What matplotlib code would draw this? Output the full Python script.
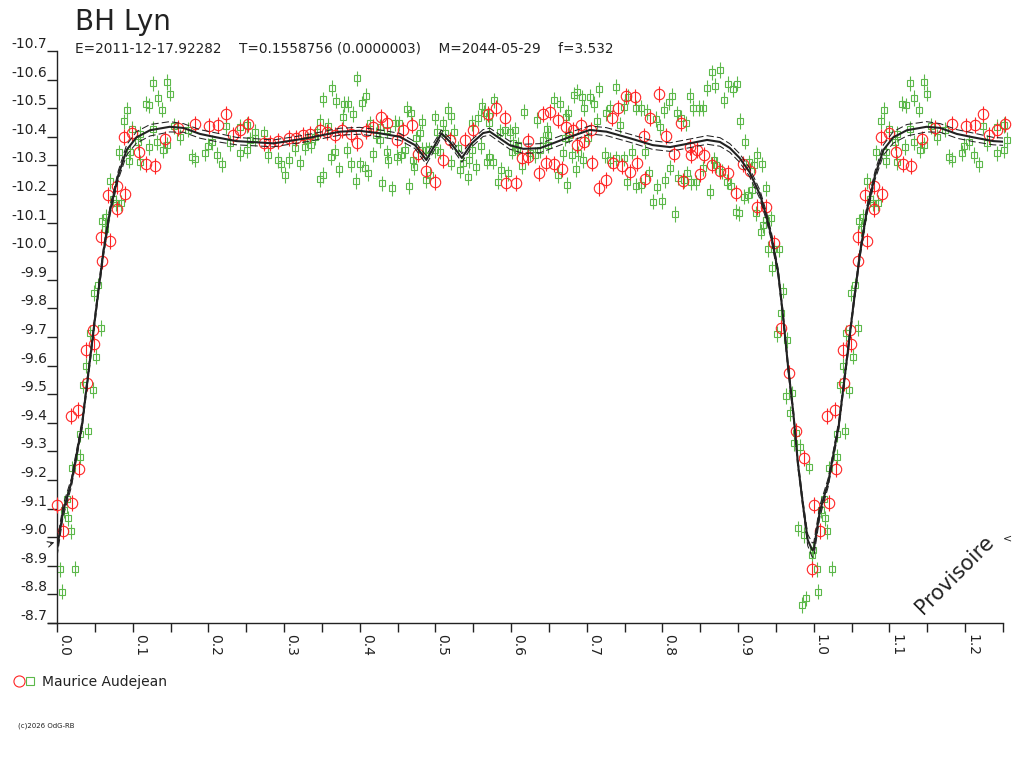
import numpy as np
import matplotlib
matplotlib.use("Agg")
import matplotlib.pyplot as plt
from matplotlib.lines import Line2D
from matplotlib.legend_handler import HandlerTuple
from matplotlib.ticker import MultipleLocator

# observations, phase 0..1 (repeated past 1.0 up to 1.25)
red_phase = [0.000, 0.008, 0.020, 0.029, 0.018, 0.028, 0.040, 0.038, 0.049, 0.048,
             0.059, 0.058, 0.070, 0.079, 0.090, 0.068, 0.079, 0.089, 0.109, 0.118,
             0.129, 0.099, 0.143, 0.160, 0.182, 0.201, 0.213, 0.223, 0.232,
             0.253, 0.242, 0.273, 0.281, 0.292, 0.306, 0.316, 0.325, 0.334, 0.347,
             0.357, 0.367, 0.377, 0.388, 0.397, 0.408, 0.417, 0.428, 0.436, 0.449,
             0.457, 0.469, 0.477, 0.487, 0.499,
             0.580, 0.752, 0.741, 0.733, 0.652, 0.642, 0.662, 0.592, 0.570, 0.550,
             0.539, 0.519, 0.692, 0.705, 0.682, 0.672, 0.622, 0.687, 0.696, 0.614,
             0.623, 0.510, 0.646, 0.657, 0.667, 0.637, 0.707, 0.735, 0.746, 0.593,
             0.606, 0.726, 0.716,
             0.764, 0.795, 0.783, 0.824, 0.775, 0.805, 0.815, 0.836, 0.846, 0.855,
             0.838, 0.767, 0.757, 0.777, 0.827, 0.849, 0.866, 0.876, 0.886, 0.897,
             0.907, 0.916, 0.925, 0.937,
             0.948, 0.956, 0.967, 0.977, 0.987, 0.997]
red_mag = [-9.113, -9.021, -9.119, -9.238, -9.423, -9.444, -9.538, -9.654, -9.675, -9.723,
           -9.966, -10.048, -10.034, -10.146, -10.200, -10.196, -10.229, -10.400, -10.346, -10.306,
           -10.298, -10.413, -10.394, -10.431, -10.444, -10.438, -10.440, -10.481, -10.406,
           -10.444, -10.424, -10.377, -10.377, -10.386, -10.395, -10.397, -10.406, -10.410, -10.424,
           -10.418, -10.406, -10.424, -10.410, -10.377, -10.420, -10.435, -10.470, -10.447, -10.389,
           -10.424, -10.441, -10.339, -10.280, -10.243,
           -10.500, -10.543, -10.500, -10.465, -10.488, -10.479, -10.459, -10.465, -10.481, -10.424,
           -10.389, -10.389, -10.441, -10.424, -10.424, -10.435, -10.386, -10.371, -10.383, -10.325,
           -10.330, -10.319, -10.307, -10.304, -10.287, -10.272, -10.310, -10.307, -10.297, -10.240,
           -10.237, -10.250, -10.220,
           -10.540, -10.549, -10.465, -10.449, -10.404, -10.404, -10.340, -10.365, -10.353, -10.336,
           -10.336, -10.307, -10.278, -10.252, -10.245, -10.269, -10.301, -10.281, -10.273, -10.202,
           -10.304, -10.281, -10.156, -10.156,
           -10.028, -9.733, -9.573, -9.371, -9.278, -8.888]

green_phase = [0.006, 0.004, 0.024, 0.018, 0.015, 0.009, 0.013, 0.020, 0.030, 0.031,
               0.041, 0.047, 0.035, 0.038, 0.052, 0.043, 0.058, 0.049, 0.054, 0.063,
               0.060, 0.065, 0.078, 0.085, 0.074, 0.070, 0.082, 0.095, 0.110, 0.096,
               0.121, 0.140, 0.145, 0.107, 0.110, 0.099, 0.089, 0.093, 0.117, 0.122,
               0.133, 0.139, 0.127, 0.145, 0.149, 0.127, 0.132, 0.155, 0.163, 0.173,
               0.179, 0.183, 0.196, 0.199, 0.205, 0.212, 0.218, 0.223, 0.229,
               0.397, 0.363, 0.408, 0.352, 0.369, 0.403, 0.379, 0.385, 0.391, 0.378,
               0.462, 0.468, 0.482, 0.499, 0.347, 0.358, 0.251, 0.262, 0.273, 0.262,
               0.255, 0.242, 0.413, 0.427, 0.447, 0.452, 0.436, 0.422, 0.427, 0.480,
               0.475, 0.502, 0.343, 0.341, 0.330, 0.336, 0.328, 0.314, 0.279, 0.292,
               0.296, 0.307, 0.321, 0.301, 0.251, 0.242, 0.367, 0.362, 0.383, 0.373,
               0.389, 0.401, 0.407, 0.411, 0.352, 0.347, 0.395, 0.417, 0.436, 0.438,
               0.449, 0.455, 0.460, 0.471, 0.472, 0.482, 0.488, 0.492, 0.499, 0.488,
               0.493, 0.429, 0.443, 0.465,
               0.738, 0.716, 0.687, 0.683, 0.694, 0.704, 0.657, 0.664, 0.709, 0.697,
               0.731, 0.725, 0.749, 0.755, 0.561, 0.578, 0.516, 0.521, 0.617, 0.564,
               0.571, 0.556, 0.549, 0.571, 0.634, 0.672, 0.675, 0.713, 0.744, 0.510,
               0.513, 0.524, 0.585, 0.592, 0.598, 0.605, 0.647, 0.649, 0.642, 0.671,
               0.677, 0.702, 0.506, 0.530, 0.549, 0.560, 0.603, 0.609, 0.608, 0.601,
               0.625, 0.631, 0.638, 0.649, 0.668, 0.680, 0.689, 0.695, 0.724, 0.731,
               0.739, 0.749, 0.521, 0.537, 0.545, 0.554, 0.568, 0.576, 0.571, 0.614,
               0.532, 0.543, 0.587, 0.596, 0.662, 0.686, 0.583, 0.674, 0.753,
               0.865, 0.876, 0.859, 0.870, 0.887, 0.898, 0.893, 0.881, 0.836, 0.813,
               0.809, 0.802, 0.841, 0.848, 0.854, 0.765, 0.772, 0.779, 0.791, 0.797,
               0.819, 0.825, 0.831, 0.903, 0.909, 0.760, 0.777, 0.782, 0.765, 0.772,
               0.793, 0.804, 0.810, 0.821, 0.832, 0.829, 0.838, 0.845, 0.854, 0.868,
               0.871, 0.879, 0.885, 0.890, 0.863, 0.788, 0.799, 0.816, 0.897, 0.901,
               0.908, 0.913, 0.919, 0.937, 0.915, 0.925, 0.932, 0.921, 0.924, 0.937,
               0.944,
               0.933, 0.930, 0.940, 0.948, 0.954, 0.945, 0.959, 0.957, 0.952, 0.965,
               0.963, 0.971, 0.968, 0.976, 0.982, 0.974, 0.994, 0.979, 0.987, 0.999,
               0.997, 0.990, 0.985]
green_mag = [-8.810, -8.888, -8.890, -9.020, -9.066, -9.094, -9.135, -9.241, -9.282, -9.360,
             -9.372, -9.514, -9.531, -9.600, -9.631, -9.714, -9.731, -9.854, -9.881, -10.079,
             -10.104, -10.120, -10.169, -10.169, -10.181, -10.245, -10.346, -10.317, -10.311, -10.346,
             -10.364, -10.354, -10.372, -10.381, -10.410, -10.429, -10.454, -10.494, -10.516, -10.510,
             -10.535, -10.495, -10.587, -10.591, -10.551, -10.429, -10.381, -10.437, -10.400, -10.425,
             -10.331, -10.321, -10.344, -10.369, -10.381, -10.337, -10.304, -10.437, -10.379,
             -10.604, -10.570, -10.544, -10.531, -10.526, -10.517, -10.514, -10.514, -10.480, -10.470,
             -10.497, -10.482, -10.453, -10.468, -10.453, -10.438, -10.441, -10.418, -10.412, -10.395,
             -10.389, -10.435, -10.447, -10.435, -10.449, -10.447, -10.424, -10.406, -10.389, -10.412,
             -10.395, -10.418, -10.418, -10.400, -10.389, -10.371, -10.365, -10.360, -10.336, -10.319,
             -10.304, -10.319, -10.310, -10.266, -10.354, -10.342, -10.348, -10.330, -10.354, -10.286,
             -10.304, -10.304, -10.290, -10.272, -10.266, -10.251, -10.245, -10.339, -10.346, -10.319,
             -10.330, -10.336, -10.354, -10.319, -10.295, -10.354, -10.354, -10.356, -10.354, -10.249,
             -10.266, -10.237, -10.220, -10.228,
             -10.575, -10.566, -10.558, -10.546, -10.538, -10.540, -10.529, -10.515, -10.515, -10.500,
             -10.500, -10.482, -10.505, -10.540, -10.508, -10.527, -10.494, -10.473, -10.488, -10.484,
             -10.473, -10.465, -10.449, -10.449, -10.459, -10.470, -10.484, -10.455, -10.441, -10.447,
             -10.412, -10.418, -10.418, -10.424, -10.418, -10.424, -10.426, -10.406, -10.389, -10.395,
             -10.406, -10.395, -10.348, -10.360, -10.354, -10.368, -10.377, -10.371, -10.354, -10.348,
             -10.342, -10.336, -10.354, -10.371, -10.342, -10.336, -10.342, -10.319, -10.336, -10.319,
             -10.325, -10.325, -10.310, -10.307, -10.319, -10.295, -10.313, -10.313, -10.330, -10.297,
             -10.284, -10.258, -10.284, -10.272, -10.266, -10.287, -10.243, -10.231, -10.241,
             -10.625, -10.634, -10.570, -10.579, -10.584, -10.586, -10.566, -10.529, -10.544, -10.544,
             -10.521, -10.494, -10.500, -10.500, -10.500, -10.502, -10.500, -10.486, -10.462, -10.435,
             -10.482, -10.465, -10.447, -10.455, -10.383, -10.348, -10.348, -10.272, -10.229, -10.231,
             -10.226, -10.249, -10.292, -10.257, -10.272, -10.249, -10.241, -10.241, -10.290, -10.319,
             -10.301, -10.278, -10.243, -10.228, -10.208, -10.173, -10.176, -10.130, -10.138, -10.132,
             -10.191, -10.196, -10.214, -10.220, -10.311, -10.336, -10.304, -10.300, -10.132, -10.109,
             -10.115,
             -10.092, -10.068, -10.007, -10.007, -10.007, -9.940, -9.862, -9.783, -9.710, -9.690,
             -9.494, -9.503, -9.433, -9.365, -9.316, -9.330, -9.247, -9.031, -9.008, -8.955,
             -8.938, -8.786, -8.763]

red_err = 0.028
green_err = 0.027

# fitted light curve and its envelope half-width
fit_phase = [0.000, 0.008, 0.019, 0.033, 0.044, 0.052, 0.061, 0.070, 0.081, 0.092,
             0.105, 0.123, 0.149, 0.167, 0.189, 0.211, 0.237, 0.286, 0.330, 0.374,
             0.400, 0.427, 0.453, 0.473, 0.488, 0.497, 0.508, 0.519, 0.535, 0.548,
             0.563, 0.572, 0.598, 0.616, 0.638, 0.678, 0.704, 0.726, 0.757, 0.787,
             0.810, 0.832, 0.859, 0.876, 0.889, 0.902, 0.915, 0.929, 0.938, 0.944,
             0.953, 0.959, 0.966, 0.973, 0.979, 0.986, 0.992, 0.998, 1.000]
fit_mag = [-8.957, -9.091, -9.191, -9.391, -9.629, -9.804, -9.991, -10.141, -10.266, -10.354,
           -10.398, -10.423, -10.435, -10.431, -10.410, -10.398, -10.385, -10.377, -10.395, -10.418,
           -10.421, -10.412, -10.400, -10.371, -10.319, -10.360, -10.412, -10.383, -10.326, -10.377,
           -10.413, -10.418, -10.371, -10.358, -10.360, -10.400, -10.424, -10.418, -10.395, -10.371,
           -10.364, -10.375, -10.389, -10.382, -10.361, -10.326, -10.277, -10.197, -10.116, -10.051,
           -9.923, -9.783, -9.596, -9.433, -9.258, -9.107, -8.990, -8.955, -8.957]
fit_band = [0.025, 0.020, 0.015, 0.015, 0.015, 0.015, 0.015, 0.015, 0.015, 0.018,
            0.020, 0.020, 0.018, 0.015, 0.015, 0.015, 0.013, 0.012, 0.012, 0.012,
            0.012, 0.012, 0.012, 0.012, 0.015, 0.015, 0.012, 0.012, 0.015, 0.012,
            0.012, 0.012, 0.014, 0.016, 0.016, 0.016, 0.014, 0.014, 0.014, 0.015,
            0.015, 0.015, 0.015, 0.015, 0.015, 0.015, 0.015, 0.015, 0.015, 0.015,
            0.015, 0.015, 0.015, 0.015, 0.015, 0.015, 0.020, 0.025, 0.025]

x_ticks = [0.0, 0.1, 0.2, 0.3, 0.4, 0.5, 0.6, 0.7, 0.8, 0.9, 1.0, 1.1, 1.2]
y_ticks = [-10.7, -10.6, -10.5, -10.4, -10.3, -10.2, -10.1, -10.0, -9.9, -9.8,
           -9.7, -9.6, -9.5, -9.4, -9.3, -9.2, -9.1, -9.0, -8.9, -8.8, -8.7]


def wrap(phase, values, limit=0.26):
    p = np.asarray(phase)
    v = np.asarray(values)
    keep = p <= limit
    return np.concatenate([p, p[keep] + 1.0]), np.concatenate([v, v[keep]])


red = "#ff2424"
green = "#5cb84a"
ink = "#222222"

plt.rcParams.update({
    "font.family": "DejaVu Sans",
    "text.color": ink,
    "axes.edgecolor": ink,
    "xtick.color": ink,
    "ytick.color": ink,
})

fig = plt.figure(figsize=(10.24, 7.68), dpi=100)
ax = fig.add_axes([57 / 1024, 1 - 623 / 768, 946 / 1024, 572 / 768])

rx, ry = wrap(red_phase, red_mag)
gx, gy = wrap(green_phase, green_mag)

ax.errorbar(gx, gy, yerr=green_err, fmt="s", ms=5, mfc="none", mec=green,
            mew=0.8, ecolor=green, elinewidth=0.8, capsize=0, clip_on=False, zorder=2)
ax.errorbar(rx, ry, yerr=red_err, fmt="o", ms=7.5, mfc="none", mec=red,
            mew=0.8, ecolor=red, elinewidth=0.8, capsize=0, clip_on=False, zorder=3)

# fit + envelope
fx = np.concatenate([fit_phase, np.asarray(fit_phase[1:]) + 1.0])
fy = np.concatenate([fit_mag, fit_mag[1:]])
fb = np.concatenate([fit_band, fit_band[1:]])
ax.plot(fx, fy, color=ink, lw=1.5, zorder=5)
ax.plot(fx, fy - fb, color=ink, lw=0.75, dashes=(7, 3), zorder=5)
ax.plot(fx, fy + fb, color=ink, lw=0.75, dashes=(7, 3), zorder=5)

ax.set_xlim(0, 1.25)
ax.set_ylim(-8.7, -10.7)

for side in ("top", "right"):
    ax.spines[side].set_visible(False)
for side in ("left", "bottom"):
    ax.spines[side].set_linewidth(1.0)
ax.spines["bottom"].set_bounds(-0.0125, 1.25)

ax.set_xticks(x_ticks)
ax.set_xticklabels([f"{t:.1f}" for t in x_ticks], rotation=-90, ha="left", va="top")
ax.xaxis.set_minor_locator(MultipleLocator(0.05))
ax.set_yticks(y_ticks)
ax.set_yticklabels([f"{t:.1f}" for t in y_ticks], va="bottom")
ax.tick_params(axis="x", which="both", direction="out", length=6.5, width=1.0,
               pad=1.5, labelsize=10)
ax.tick_params(axis="y", direction="out", length=7.2, width=1.0, pad=0, labelsize=10)

# little arrow on the magnitude axis
ax.annotate("", xy=(0.0, -8.985), xytext=(-0.012, -8.975),
            arrowprops=dict(arrowstyle="->", color=ink, lw=0.8),
            annotation_clip=False)

fig.text(75 / 1024, 1 - 30 / 768, "BH Lyn", fontsize=20, va="baseline")
fig.text(75 / 1024, 1 - 53 / 768,
         "E=2011-12-17.92282    T=0.1558756 (0.0000003)    M=2044-05-29    f=3.532",
         fontsize=9.8, va="baseline")

fig.text(955 / 1024, 1 - 575 / 768, "Provisoire", rotation=45, fontsize=15,
         ha="center", va="center", color=ink)
fig.text(1007 / 1024, 1 - 538 / 768, "<", fontsize=8, ha="center", va="center", color=ink)

h_red = Line2D([], [], ls="none", marker="o", ms=8, mfc="none", mec=red, mew=0.8)
h_green = Line2D([], [], ls="none", marker="s", ms=6, mfc="none", mec=green, mew=0.8)
fig.legend(handles=[(h_red, h_green)], labels=["Maurice Audejean"],
           handler_map={tuple: HandlerTuple(ndivide=None, pad=0.2)},
           loc="center left", bbox_to_anchor=(14 / 1024, 1 - 682 / 768),
           frameon=False, fontsize=10, handlelength=1.5, handletextpad=0.5,
           borderaxespad=0, borderpad=0)

fig.text(18 / 1024, 1 - 726 / 768, "(c)2026 OdG-RB", fontsize=5, va="center")

fig.savefig("out.png", dpi=100, facecolor="white")
plt.close(fig)
